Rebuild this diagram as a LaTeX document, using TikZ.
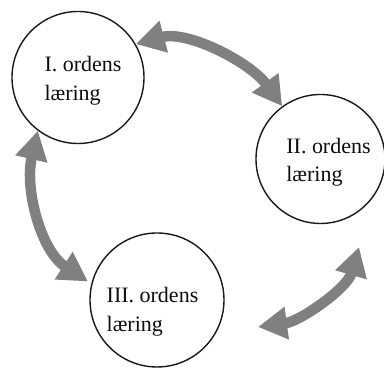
\documentclass[tikz,border=0pt]{standalone}
\usepackage{fontspec}
\setmainfont{Liberation Serif}
\usetikzlibrary{arrows.meta}
\begin{document}
\begin{tikzpicture}[x=1pt,y=1pt,
  stage/.style={circle, draw=black!90, line width=1.4pt, inner sep=0pt, minimum size=#1},
  lbl/.style={align=left, inner sep=0pt, text=black!95, font=\fontsize{22}{28.5}\selectfont},
  link/.style={draw=gray, line width=10.5pt,
    {Triangle[width=31pt,length=29pt]}-{Triangle[width=31pt,length=29pt]}}]
\useasboundingbox (0,0) rectangle (384,371);

% the three orders of learning
\node[stage=132pt] (c1) at (78,293.5) {};
\node[stage=129pt] (c2) at (320.5,212) {};
\node[stage=134pt] (c3) at (157,71) {};

\node[lbl] (t1) at (83,290) {I. ordens\\læring};
\node[lbl] (t2) at (328.5,208.5) {II. ordens\\læring};
\node[lbl] (t3) at (152.5,59) {III. ordens\\læring};

% free ends of the lower right arrow
\coordinate (e2) at ([shift={(38.5,-88)}]c2.center);
\coordinate (e3) at ([shift={(101,-27)}]c3.center);

% curved two-way arrows between the stages
\draw[link] (c1.30) .. controls +(15:54) and +(126:54) .. (c2.126);
\draw[link, shorten >=4pt] (c1.233) .. controls +(257:60) and +(147:60) .. (c3.166);
\draw[link] (e2) .. controls +(254:43) and +(7.7:43) .. (e3);
\end{tikzpicture}
\end{document}
